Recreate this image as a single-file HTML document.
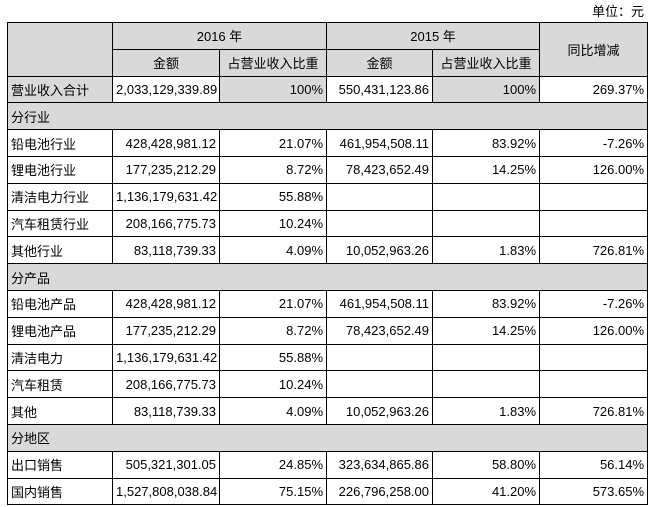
<!DOCTYPE html>
<html><head><meta charset="utf-8"><style>
body{margin:0;width:650px;height:507px;background:#fff;position:relative;font-family:"Liberation Sans","Noto Sans CJK SC",sans-serif;font-size:13px;color:#000}
.unit{position:absolute;right:6px;top:1px;font-size:13px}
table{position:absolute;left:7px;top:22px;border-collapse:collapse;table-layout:fixed;width:640px;height:482px}
tr{height:26.8px}
td{border:1px solid #000;padding:0 3px;white-space:nowrap;overflow:hidden}
.g{background:#d9d9d9}
.c{text-align:center}
.r{text-align:right}
</style></head><body>
<div class="unit">单位：元</div>
<table>
<colgroup><col style="width:105px"><col style="width:107px"><col style="width:107px"><col style="width:106px"><col style="width:107px"><col style="width:108px"></colgroup>
<tr><td class="g" rowspan="2"></td><td class="g c" colspan="2">2016 年</td><td class="g c" colspan="2">2015 年</td><td class="g c" rowspan="2">同比增减</td></tr>
<tr><td class="g c">金额</td><td class="g c">占营业收入比重</td><td class="g c">金额</td><td class="g c">占营业收入比重</td></tr>
<tr><td class="g">营业收入合计</td><td class="r">2,033,129,339.89</td><td class="g r">100%</td><td class="r">550,431,123.86</td><td class="g r">100%</td><td class="r">269.37%</td></tr>
<tr><td class="g" colspan="6">分行业</td></tr>
<tr><td>铅电池行业</td><td class="r">428,428,981.12</td><td class="r">21.07%</td><td class="r">461,954,508.11</td><td class="r">83.92%</td><td class="r">-7.26%</td></tr>
<tr><td>锂电池行业</td><td class="r">177,235,212.29</td><td class="r">8.72%</td><td class="r">78,423,652.49</td><td class="r">14.25%</td><td class="r">126.00%</td></tr>
<tr><td>清洁电力行业</td><td class="r">1,136,179,631.42</td><td class="r">55.88%</td><td></td><td></td><td></td></tr>
<tr><td>汽车租赁行业</td><td class="r">208,166,775.73</td><td class="r">10.24%</td><td></td><td></td><td></td></tr>
<tr><td>其他行业</td><td class="r">83,118,739.33</td><td class="r">4.09%</td><td class="r">10,052,963.26</td><td class="r">1.83%</td><td class="r">726.81%</td></tr>
<tr><td class="g" colspan="6">分产品</td></tr>
<tr><td>铅电池产品</td><td class="r">428,428,981.12</td><td class="r">21.07%</td><td class="r">461,954,508.11</td><td class="r">83.92%</td><td class="r">-7.26%</td></tr>
<tr><td>锂电池产品</td><td class="r">177,235,212.29</td><td class="r">8.72%</td><td class="r">78,423,652.49</td><td class="r">14.25%</td><td class="r">126.00%</td></tr>
<tr><td>清洁电力</td><td class="r">1,136,179,631.42</td><td class="r">55.88%</td><td></td><td></td><td></td></tr>
<tr><td>汽车租赁</td><td class="r">208,166,775.73</td><td class="r">10.24%</td><td></td><td></td><td></td></tr>
<tr><td>其他</td><td class="r">83,118,739.33</td><td class="r">4.09%</td><td class="r">10,052,963.26</td><td class="r">1.83%</td><td class="r">726.81%</td></tr>
<tr><td class="g" colspan="6">分地区</td></tr>
<tr><td>出口销售</td><td class="r">505,321,301.05</td><td class="r">24.85%</td><td class="r">323,634,865.86</td><td class="r">58.80%</td><td class="r">56.14%</td></tr>
<tr><td>国内销售</td><td class="r">1,527,808,038.84</td><td class="r">75.15%</td><td class="r">226,796,258.00</td><td class="r">41.20%</td><td class="r">573.65%</td></tr>
</table>
</body></html>
